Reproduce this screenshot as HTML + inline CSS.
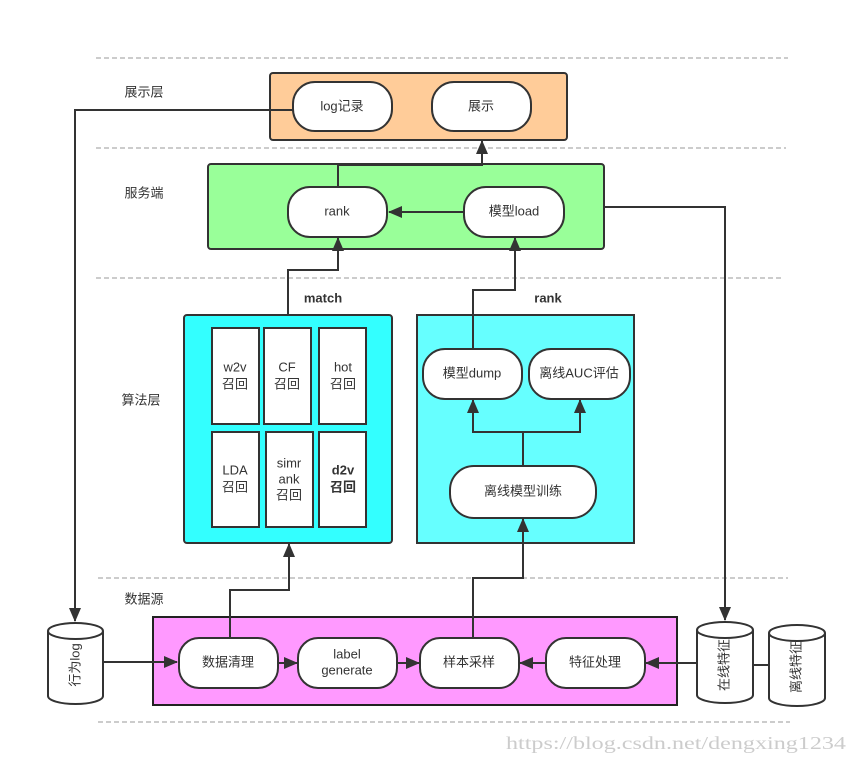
<!DOCTYPE html>
<html><head><meta charset="utf-8"><style>
body{margin:0;background:#fff}
svg{display:block}
text{font-family:"Liberation Sans","Noto Sans CJK SC",sans-serif;font-size:13px;fill:#333;text-anchor:middle;dominant-baseline:middle}
.n{fill:#fff;stroke:#333;stroke-width:2}
.l{fill:none;stroke:#333;stroke-width:2}
.d{stroke:#999;stroke-width:1;stroke-dasharray:5 3}
</style></head><body>
<svg width="856" height="764" viewBox="0 0 856 764">
<defs><marker id="a" markerWidth="14" markerHeight="12" refX="13" refY="6" orient="auto" markerUnits="userSpaceOnUse"><path d="M0,0 L14,6 L0,12 z" fill="#333"/></marker></defs>
<g class="d"><line x1="96" y1="58" x2="788" y2="58"/><line x1="96" y1="148" x2="786" y2="148"/><line x1="96" y1="278" x2="783" y2="278"/><line x1="98" y1="578" x2="788" y2="578"/><line x1="98" y1="722" x2="790" y2="722"/></g>
<text x="144" y="93">展示层</text><text x="144" y="194">服务端</text><text x="141" y="401">算法层</text><text x="144" y="600">数据源</text>
<rect x="270" y="73" width="297" height="67" rx="3" fill="#FFCC99" stroke="#333" stroke-width="2"/>
<rect x="293" y="82" width="99" height="49" rx="22" class="n"/><text x="342" y="107">log记录</text>
<rect x="432" y="82" width="99" height="49" rx="22" class="n"/><text x="481" y="107">展示</text>
<rect x="208" y="164" width="396" height="85" rx="3" fill="#99FF99" stroke="#333" stroke-width="2"/>
<rect x="288" y="187" width="99" height="50" rx="22" class="n"/><text x="337" y="212">rank</text>
<rect x="464" y="187" width="100" height="50" rx="22" class="n"/><text x="514" y="212">模型load</text>
<text x="323" y="299" style="font-weight:bold">match</text><text x="548" y="299" style="font-weight:bold">rank</text>
<rect x="184" y="315" width="208" height="228" rx="3" fill="#33FFFF" stroke="#333" stroke-width="2"/>
<g class="n"><rect x="212" y="328" width="47" height="96"/><rect x="264" y="328" width="47" height="96"/><rect x="319" y="328" width="47" height="96"/><rect x="212" y="432" width="47" height="95"/><rect x="266" y="432" width="47" height="95"/><rect x="319" y="432" width="47" height="95"/></g>
<text x="235" y="368">w2v</text><text x="235" y="385">召回</text>
<text x="287" y="368">CF</text><text x="287" y="385">召回</text>
<text x="343" y="368">hot</text><text x="343" y="385">召回</text>
<text x="235" y="471">LDA</text><text x="235" y="488">召回</text>
<text x="289" y="464">simr</text><text x="289" y="480">ank</text><text x="289" y="496">召回</text>
<text x="343" y="471" style="font-weight:bold">d2v</text><text x="343" y="488" style="font-weight:bold">召回</text>
<rect x="417" y="315" width="217" height="228" fill="#66FFFF" stroke="#333" stroke-width="2"/>
<rect x="423" y="349" width="99" height="50" rx="22" class="n"/><text x="472" y="374">模型dump</text>
<rect x="529" y="349" width="101" height="50" rx="22" class="n"/><text x="579" y="374">离线AUC评估</text>
<rect x="450" y="466" width="146" height="52" rx="24" class="n"/><text x="523" y="492">离线模型训练</text>
<rect x="153" y="617" width="524" height="88" fill="#FF99FF" stroke="#222" stroke-width="2"/>
<rect x="179" y="638" width="99" height="50" rx="20" class="n"/><text x="228" y="663">数据清理</text>
<rect x="298" y="638" width="99" height="50" rx="20" class="n"/><text x="347" y="655">label</text><text x="347" y="671">generate</text>
<rect x="420" y="638" width="99" height="50" rx="20" class="n"/><text x="469" y="663">样本采样</text>
<rect x="546" y="638" width="99" height="50" rx="20" class="n"/><text x="595" y="663">特征处理</text>
<g class="n"><path d="M48,631 v65 a27.5,8 0 0 0 55,0 v-65"/><ellipse cx="75.5" cy="631" rx="27.5" ry="8"/>
<path d="M697,630 v65 a28,8 0 0 0 56,0 v-65"/><ellipse cx="725" cy="630" rx="28" ry="8"/>
<path d="M769,633 v65 a28,8 0 0 0 56,0 v-65"/><ellipse cx="797" cy="633" rx="28" ry="8"/></g>
<text transform="translate(76,665) rotate(-90)">行为log</text>
<text transform="translate(725,665) rotate(-90)">在线特征</text>
<text transform="translate(797,667) rotate(-90)">离线特征</text>
<g class="l">
<path d="M293,110 H75 V621" marker-end="url(#a)"/>
<path d="M338,187 V165 H482 V141" marker-end="url(#a)"/>
<path d="M464,212 H389" marker-end="url(#a)"/>
<path d="M604,207 H725 V620" marker-end="url(#a)"/>
<path d="M288,315 V270 H338 V238" marker-end="url(#a)"/>
<path d="M473,349 V290 H515 V238" marker-end="url(#a)"/>
<path d="M523,466 V432 H473 V400" marker-end="url(#a)"/>
<path d="M523,432 H580 V400" marker-end="url(#a)"/>
<path d="M230,638 V590 H289 V544" marker-end="url(#a)"/>
<path d="M473,638 V578 H523 V519" marker-end="url(#a)"/>
<path d="M103,662 H177" marker-end="url(#a)"/>
<path d="M278,663 H297" marker-end="url(#a)"/>
<path d="M397,663 H419" marker-end="url(#a)"/>
<path d="M546,663 H520" marker-end="url(#a)"/>
<path d="M697,663 H646" marker-end="url(#a)"/>
<path d="M753,665 H769"/>
</g>
<text x="506" y="745" textLength="340" lengthAdjust="spacingAndGlyphs" style="text-anchor:start;font-family:'Liberation Serif',serif;font-size:18px;fill:#ccc">https://blog.csdn.net/dengxing1234</text>
</svg>
</body></html>
